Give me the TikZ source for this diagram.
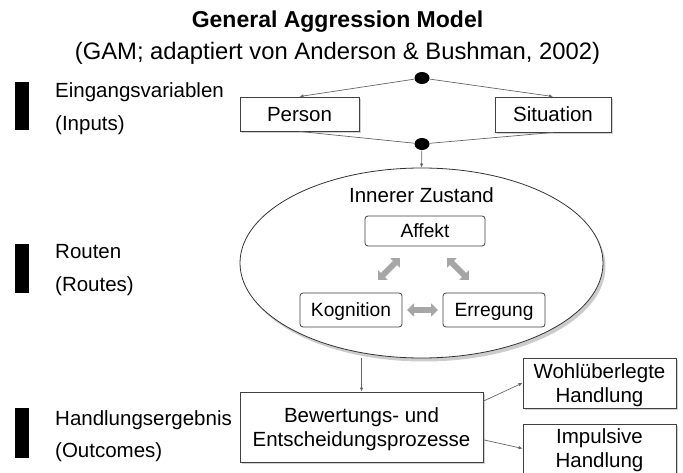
\documentclass[tikz,border=0pt]{standalone}
\usepackage{fontspec}
\setmainfont{Liberation Sans}
\usetikzlibrary{arrows.meta,shapes.geometric,shadows}

\begin{document}
\begin{tikzpicture}[
  x=1pt, y=-1pt,
  every node/.style={font=\fontsize{20.5}{24}\selectfont, inner sep=0pt},
  levellabel/.style={anchor=base west},
  outerbox/.style={draw=black!75, line width=0.9pt, fill=white, align=center, text depth=0pt,
    drop shadow={shadow xshift=1.8pt, shadow yshift=-1.8pt, fill=black!35}},
  innerbox/.style={draw=black!75, line width=0.8pt, rounded corners=3pt, fill=white, minimum height=34pt,
    text depth=0pt, font=\fontsize{19.2}{23}\selectfont},
  junction/.style={ellipse, fill=black, minimum width=15pt, minimum height=12pt},
  link/.style={draw=black!60, line width=0.7pt},
  linkarrow/.style={link, -{Latex[length=4pt,width=3.5pt]}},
  route/.style={draw=black!35, line width=6pt, {Triangle[length=7pt,width=13pt]}-{Triangle[length=7pt,width=13pt]}}
  ]
\useasboundingbox (0,0) rectangle (683,473);
\clip (0,0) rectangle (683,473);

% heading
\node[anchor=base, font=\fontsize{23}{27}\selectfont\bfseries] (title) at (337.5,28) {General Aggression Model};
\node[anchor=base, font=\fontsize{23.8}{28}\selectfont] (subtitle) at (337.5,60) {(GAM; adaptiert von Anderson \& Bushman, 2002)};

% levels on the left
\fill (15,82) rectangle (29,130);
\fill (15,244) rectangle (29,293);
\fill (15,408) rectangle (29,458);
\node[levellabel] (inputs) at (55,97.5) {Eingangsvariablen};
\node[levellabel] (inputsEn) at (55,131) {(Inputs)};
\node[levellabel] (routes) at (55,258.5) {Routen};
\node[levellabel] (routesEn) at (55,291) {(Routes)};
\node[levellabel] (outcomes) at (55,425) {Handlungsergebnis};
\node[levellabel] (outcomesEn) at (55,457) {(Outcomes)};

% inputs
\node[junction] (topdot) at (422,78) {};
\node[outerbox, minimum width=119pt, minimum height=34pt] (person) at (299.5,114) {Person};
\node[outerbox, minimum width=116pt, minimum height=35pt] (situation) at (553,114.5) {Situation};
\node[junction] (lowdot) at (422,144) {};
\draw[linkarrow] (topdot) -- (person.north);
\draw[linkarrow] (topdot) -- (situation.north);
\draw[link] (person.south) -- (lowdot);
\draw[link] (situation.south) -- (lowdot);

% routes
\node[ellipse, draw=black!80, line width=0.8pt, fill=white, minimum width=363pt, minimum height=190pt,
  drop shadow={shadow xshift=2.5pt, shadow yshift=-3.5pt, fill=black!40}] (zustand) at (421.5,263) {};
\draw[linkarrow] (lowdot) -- (zustand.north);
\node[anchor=base] (zustandLabel) at (421.5,203) {Innerer Zustand};
\node[innerbox, minimum width=120pt, minimum height=30pt] (affekt) at (425,231) {Affekt};
\node[innerbox, minimum width=102pt] (kognition) at (351,310) {Kognition};
\node[innerbox, minimum width=102pt] (erregung) at (494,310) {Erregung};
\coordinate (kogUp) at (378,280);
\coordinate (affLeft) at (400,258);
\coordinate (affRight) at (447,258);
\coordinate (errUp) at (469,280);
\coordinate (kogRight) at (407,310);
\coordinate (errLeft) at (438,310);
\draw[route] (kogUp) -- (affLeft);
\draw[route] (affRight) -- (errUp);
\draw[route] (kogRight) -- (errLeft);

% outcomes
\node[outerbox, minimum width=243pt, minimum height=70pt] (bewertung) at (361.5,427) {Bewertungs- und\\Entscheidungsprozesse};
\node[outerbox, minimum width=153pt, minimum height=50pt] (wohl) at (599.5,383) {Wohlüberlegte\\Handlung};
\node[outerbox, minimum width=153pt, minimum height=49pt] (impulsiv) at (599.5,448.5) {Impulsive\\Handlung};
\draw[linkarrow] (bewertung.north |- zustand.south) -- (bewertung.north);
\draw[linkarrow] (bewertung.12) -- (wohl.west);
\draw[linkarrow] (bewertung.-6) -- (impulsiv.west);
\end{tikzpicture}
\end{document}
